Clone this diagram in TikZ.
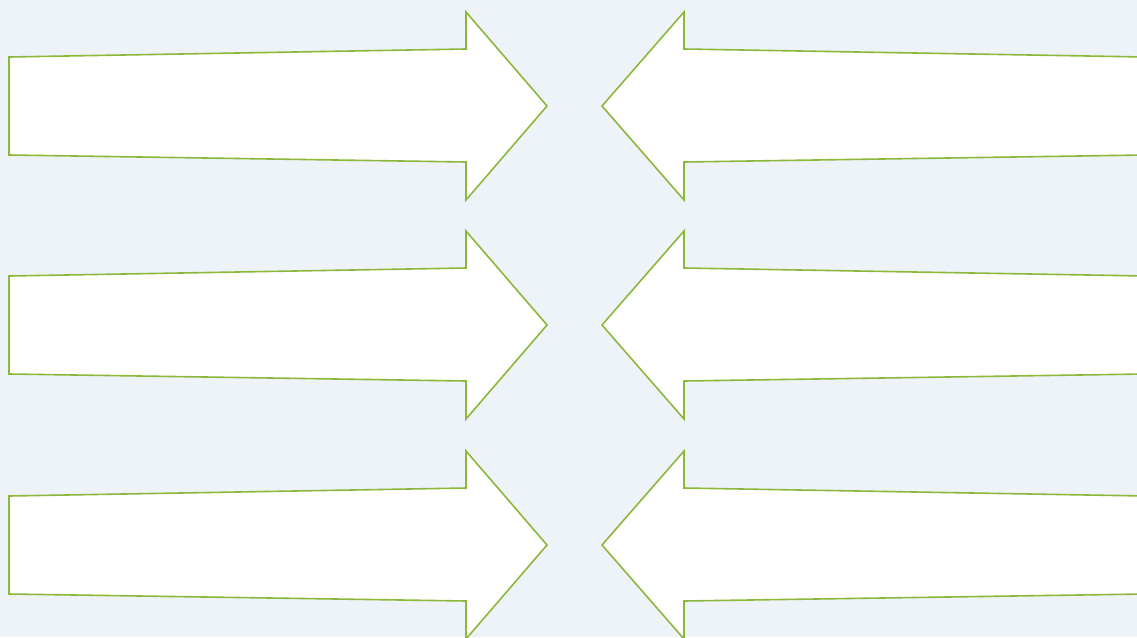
\documentclass[tikz,border=0pt]{standalone}
\definecolor{bgblue}{HTML}{EEF3FA}
\definecolor{arrowgreen}{HTML}{8BB83A}
\begin{document}
\begin{tikzpicture}[x=1pt,y=-1pt,
  arrowshape/.style={draw=arrowgreen,fill=white,line width=1.6pt,line join=miter}]
\fill[bgblue] (0,0) rectangle (1137,637);
\useasboundingbox (0,0) rectangle (1137,637);
\begin{scope}
\clip (0,0) rectangle (1137,637);
\foreach \c in {106,325,545}{
  % right-pointing arrows
  \draw[arrowshape] (9,\c-49) -- (466,\c-57) -- (466,\c-94) -- (547,\c) -- (466,\c+94) -- (466,\c+56) -- (9,\c+49) -- cycle;
  % left-pointing arrows
  \draw[arrowshape] (1145,\c-49) -- (684,\c-57) -- (684,\c-94) -- (602,\c) -- (684,\c+94) -- (684,\c+56) -- (1145,\c+49) -- cycle;
}
\end{scope}
\end{tikzpicture}
\end{document}
